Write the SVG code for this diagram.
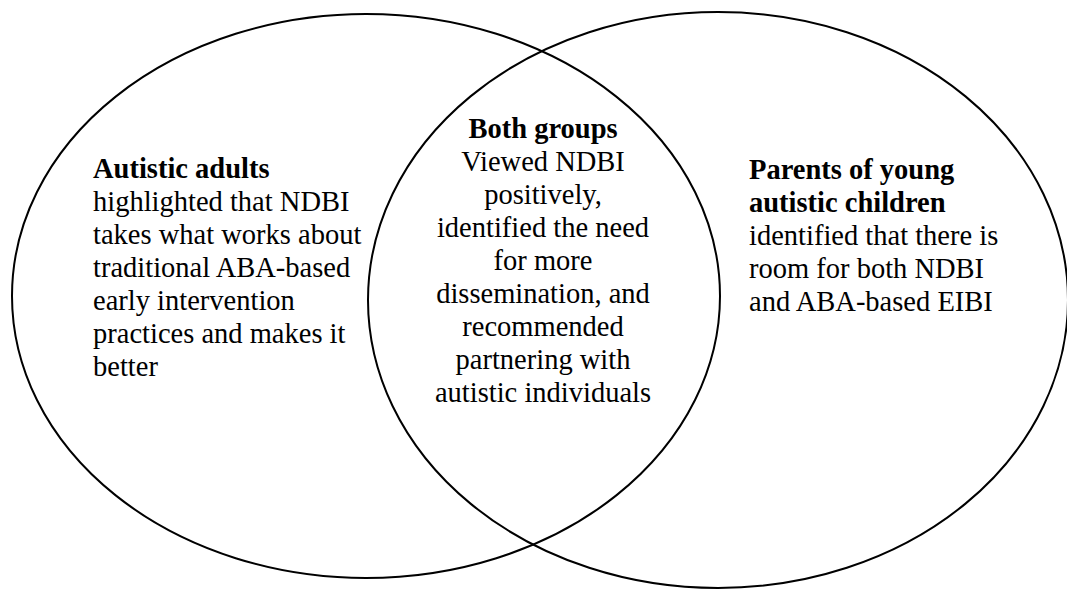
<svg xmlns="http://www.w3.org/2000/svg" width="1067" height="589" viewBox="0 0 1067 589">
<style>
.ring{fill:none;stroke:#000;stroke-width:2}
.t{font-family:'Liberation Serif','Tinos','Times New Roman',Times,'DejaVu Serif',serif;font-size:28.5px;fill:#000}
.b{font-weight:bold}
.c{text-anchor:middle}
</style>
<rect width="1067" height="589" fill="#fff"/>
<g id="connectors"></g>
<g id="left-set">
<ellipse class="ring" cx="366" cy="296" rx="354" ry="282"/>
<g class="t" font-family="Liberation Serif, serif">
<text x="93" y="178" class="b">Autistic adults</text>
<text x="93" y="211">highlighted that NDBI</text>
<text x="93" y="244">takes what works about</text>
<text x="93" y="277">traditional ABA-based</text>
<text x="93" y="310">early intervention</text>
<text x="93" y="343">practices and makes it</text>
<text x="93" y="376">better</text>
</g>
</g>
<g id="right-set">
<ellipse class="ring" cx="718" cy="300" rx="350" ry="288"/>
<g class="t" font-family="Liberation Serif, serif">
<text x="749" y="179" class="b">Parents of young</text>
<text x="749" y="212" class="b">autistic children</text>
<text x="749" y="245">identified that there is</text>
<text x="749" y="278">room for both NDBI</text>
<text x="749" y="311">and ABA-based EIBI</text>
</g>
</g>
<g id="overlap">
<g class="t c" font-family="Liberation Serif, serif">
<text x="543" y="138" class="b">Both groups</text>
<text x="543" y="171">Viewed NDBI</text>
<text x="543" y="204">positively,</text>
<text x="543" y="237">identified the need</text>
<text x="543" y="270">for more</text>
<text x="543" y="303">dissemination, and</text>
<text x="543" y="336">recommended</text>
<text x="543" y="369">partnering with</text>
<text x="543" y="402">autistic individuals</text>
</g>
</g>
</svg>
